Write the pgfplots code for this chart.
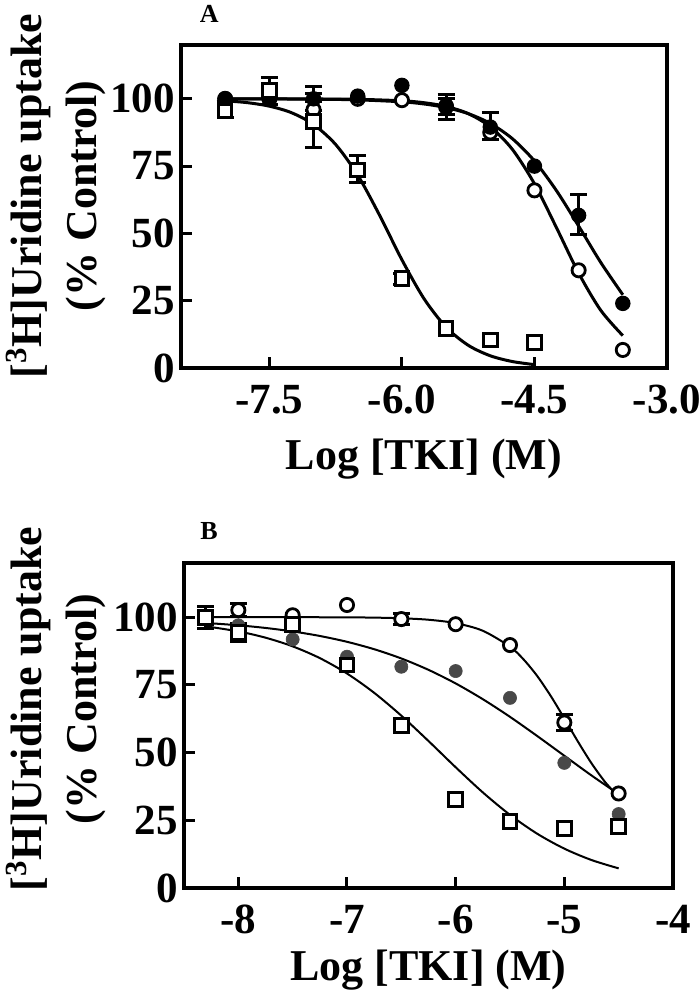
\documentclass[border=0pt]{standalone}
\usepackage{fontspec}
\setmainfont{Liberation Serif}
\usepackage{pgfplots}
\pgfplotsset{compat=1.18}
\definecolor{grayfill}{RGB}{72,72,72}
\pgfplotsset{
  panel/.style={
    scale only axis,
    axis line style={line width=1.75pt},
    every tick/.style={line width=1.5pt, black},
    major tick length=5.5pt,
    tick align=inside,
    xtick pos=left, ytick pos=left,
    ymin=0, ymax=120,
    ytick={0,25,50,75,100},
    yticklabels={0,25,50,75,100},
    tick label style={font=\fontsize{21.5}{24}\selectfont\bfseries},
    yticklabel style={anchor=east, inner sep=0pt, xshift=-3pt},
    label style={font=\fontsize{22}{27.5}\selectfont\bfseries},
    xlabel={Log [TKI] (M)},
    ylabel={[\textsuperscript{3}H]Uridine uptake\\(\% Control)},
    ylabel style={rotate=0, anchor=center, align=center},
    clip=false,
  },
  ebar/.style={only marks, mark=none,
    error bars/.cd, y dir=both, y explicit,
    error bar style={line width=1.5pt, black},
    error mark options={rotate=90, mark size=4.25pt, line width=1.5pt, black}},
  fcirc/.style={only marks, mark=*, mark size=3.6pt, mark options={fill=black, draw=black, line width=0.5pt}},
  ocirc/.style={only marks, mark=*, mark size=3.3pt, mark options={fill=white, draw=black, line width=1.4pt}},
  gcirc/.style={only marks, mark=*, mark size=3.3pt, mark options={fill=grayfill, draw=grayfill, line width=0.3pt}},
  osq/.style={only marks, mark=square*, mark size=3.4pt, mark options={fill=white, draw=black, line width=1.5pt}},
}
\begin{document}
\begin{tikzpicture}
\path[use as bounding box] (0,0) rectangle (350pt,495pt);
% ---------------- Panel A ----------------
\begin{axis}[panel,
  at={(90.5pt,311pt)}, anchor=south west,
  width=243pt, height=161.5pt,
  xmin=-8.5, xmax=-3.0,
  xtick={-7.5,-6.0,-4.5,-3.0},
  xticklabels={-7.5,-6.0,-4.5,-3.0},
  xticklabel style={anchor=base, yshift=-23pt},
  xlabel style={at={(axis description cs:0.5,0)}, anchor=base, yshift=-51pt},
  ylabel style={at={(axis description cs:-0.257,0.5325)}},
]
% fitted curves
\addplot[black, line width=1.5pt, smooth] coordinates {
(-8,99.26) (-7.75,98.58) (-7.5,97.27) (-7.25,94.85) (-7.0,90.47) (-6.75,83.04)
(-6.5,71.64) (-6.25,56.58) (-6.0,40.20) (-5.75,25.75) (-5.5,15.17) (-5.25,8.45)
(-5.0,4.54) (-4.75,2.40) (-4.5,1.25)};
\addplot[black, line width=1.5pt, smooth] coordinates {
(-8,99.99) (-7.5,99.96) (-7,99.87) (-6.5,99.62) (-6,98.88) (-5.75,98.09)
(-5.5,96.74) (-5.25,94.50) (-5,90.86) (-4.75,85.19) (-4.5,76.91) (-4.25,65.84)
(-4,52.73) (-3.75,39.23) (-3.5,27.20)};
\addplot[black, line width=1.5pt, smooth] coordinates {
(-8,100) (-7.5,99.99) (-7,99.95) (-6.5,99.82) (-6,99.27) (-5.75,98.56)
(-5.5,97.17) (-5.25,94.51) (-5,89.61) (-4.75,81.22) (-4.5,68.43) (-4.25,52.07)
(-4,35.25) (-3.75,21.44) (-3.5,12.03)};
% error bars
\addplot[ebar] coordinates {(-7,96) +- (0,3) (-5.5,97) +- (0,3)};
\addplot[ebar] coordinates {(-7,100) +- (0,4.4) (-5.5,97) +- (0,4.7) (-5,90) +- (0,5) (-4,57) +- (0,7.3)};
\addplot[ebar] coordinates {(-8,96) +- (0,3) (-7.5,103) +- (0,5) (-7,92) +- (0,10) (-6.5,74) +- (0,5) (-6,33) +- (0,2)};
% open circles
\addplot[ocirc] coordinates {(-8,100) (-7.5,100) (-7,96) (-6.5,100) (-6,99.5) (-5.5,97) (-5,87.5) (-4.5,66) (-4,36.3) (-3.5,6.7)};
% filled circles
\addplot[fcirc] coordinates {(-8,100) (-7.5,100) (-7,100) (-6.5,101) (-6,105) (-5.5,97.5) (-5,89.5) (-4.5,75) (-4,56.7) (-3.5,24)};
% squares
\addplot[osq] coordinates {(-8,95.5) (-7.5,103) (-7,91.5) (-6.5,73.6) (-6,33.2) (-5.5,14.7) (-5,10.4) (-4.5,9.4)};
\node[font=\fontsize{13}{15}\selectfont\bfseries, anchor=base] at (axis description cs:0.058,1.071) {A};
\end{axis}
% ---------------- Panel B ----------------
\begin{axis}[panel,
  at={(92pt,51pt)}, anchor=south west,
  width=244.5pt, height=162.5pt,
  xmin=-8.5, xmax=-4.0,
  xtick={-8,-7,-6,-5,-4},
  xticklabels={-8,-7,-6,-5,-4},
  xticklabel style={anchor=base, yshift=-22.5pt},
  xlabel style={at={(axis description cs:0.5,0)}, anchor=base, yshift=-46pt},
  ylabel style={at={(axis description cs:-0.262,0.551)}},
]
\addplot[black, line width=1pt, smooth] coordinates {
(-8.3,100.0) (-7.5,99.99) (-7.0,99.93) (-6.75,99.83) (-6.5,99.59) (-6.25,99.05)
(-6.0,97.79) (-5.75,94.98) (-5.5,89.09) (-5.375,84.39) (-5.25,78.30) (-5.125,70.90)
(-5.0,62.60) (-4.875,54.07) (-4.75,46.06) (-4.625,39.15) (-4.5,33.61)};
\addplot[black, line width=1pt, smooth] coordinates {
(-8.3,97.87) (-8.0,97.00) (-7.75,96.02) (-7.5,94.73) (-7.25,93.06) (-7.0,90.90)
(-6.75,88.17) (-6.5,84.75) (-6.25,80.55) (-6.0,75.53) (-5.75,69.71) (-5.5,63.19)
(-5.25,56.13) (-5.0,48.83) (-4.75,41.56) (-4.5,34.65)};
\addplot[black, line width=1pt, smooth] coordinates {
(-8.3,96.63) (-8.0,94.74) (-7.75,92.43) (-7.5,89.22) (-7.25,84.88) (-7.0,79.20)
(-6.75,72.07) (-6.5,63.63) (-6.25,54.27) (-6.0,44.58) (-5.75,35.29) (-5.5,27.00)
(-5.25,20.05) (-5.0,14.53) (-4.75,10.33) (-4.5,7.25)};
% gray circles
\addplot[gcirc] coordinates {(-8.3,100) (-8,97) (-7.5,91.8) (-7,85.4) (-6.5,81.7) (-6,80.1) (-5.5,70.2) (-5,46.2) (-4.5,27.3)};
% open circles
\addplot[ebar] coordinates {(-8,102.6) +- (0,2.3) (-6.5,99.3) +- (0,2) (-5,61.1) +- (0,3)};
\addplot[ocirc] coordinates {(-8.3,100) (-8,102.6) (-7.5,100.7) (-7,104.5) (-6.5,99.3) (-6,97.4) (-5.5,89.7) (-5,61.1) (-4.5,34.9)};
% squares
\addplot[ebar] coordinates {(-8.3,99.9) +- (0,4) (-8,94.3) +- (0,3.4)};
\addplot[osq] coordinates {(-8.3,99.9) (-8,94.3) (-7.5,97.2) (-7,82.3) (-6.5,60.1) (-6,32.7) (-5.5,24.5) (-5,22) (-4.5,22.6)};
\node[font=\fontsize{13}{15}\selectfont\bfseries, anchor=base] at (axis description cs:0.051,1.071) {B};
\end{axis}
\end{tikzpicture}
\end{document}
